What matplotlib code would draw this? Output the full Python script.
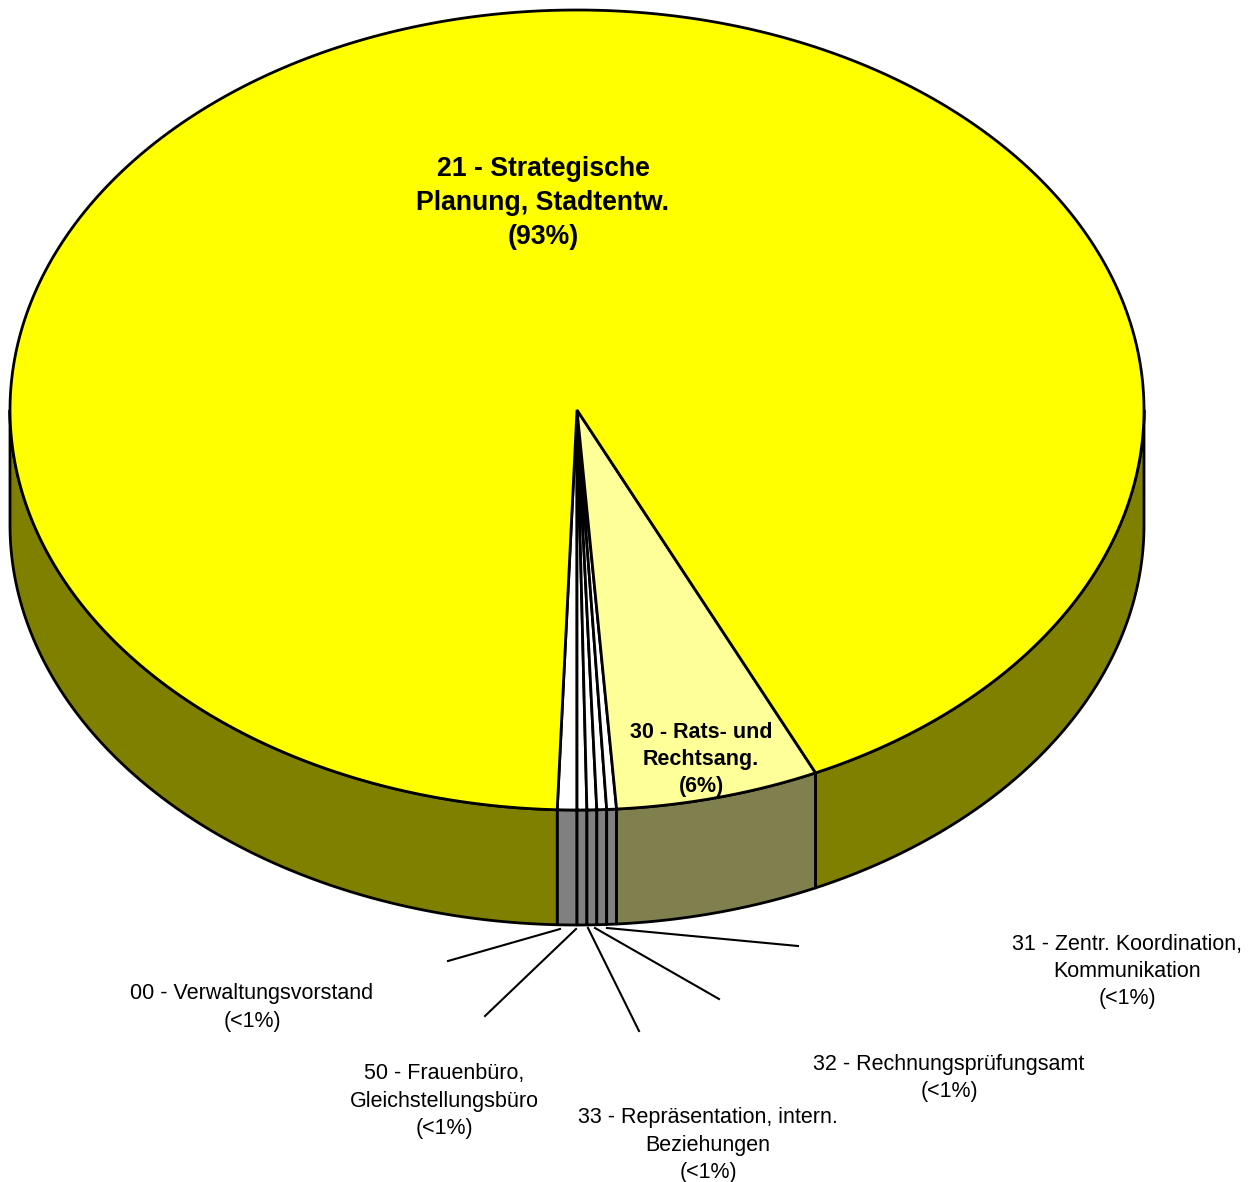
import numpy as np
import matplotlib
matplotlib.use('Agg')
import matplotlib.pyplot as plt

# shares in percent, in drawing order starting just left of the front
names = ['00', '50', '33', '32', '31', '30', '21']
shares = [0.556, 0.278, 0.278, 0.278, 0.278, 5.80, 92.532]
top_colors = ['#FFFFFF', '#FFFFFF', '#FFFFFF', '#FFFFFF', '#FFFFFF', '#FFFF99', '#FFFF00']
wall_colors = ['#808080', '#808080', '#808080', '#808080', '#808080', '#80804F', '#808000']

labels = ['00 - Verwaltungsvorstand\n(<1%)',
          '50 - Frauenbüro,\nGleichstellungsbüro\n(<1%)',
          '33 - Repräsentation, intern.\nBeziehungen\n(<1%)',
          '32 - Rechnungsprüfungsamt\n(<1%)',
          '31 - Zentr. Koordination,\nKommunikation\n(<1%)',
          '30 - Rats- und\nRechtsang.\n(6%)',
          '21 - Strategische\nPlanung, Stadtentw.\n(93%)']
label_pos = [(252, 1007.5), (444, 1101), (708, 1145), (949, 1078), (1127, 971.5), (701, 759.5), (543, 203.5)]
leaders = [((560, 929), (448, 961)),
           ((576, 929), (485, 1016)),
           ((588, 928), (639, 1031)),
           ((595, 928), (719, 999)),
           ((607, 928), (798, 946))]

cx, cy, rx, ry, depth = 577, 410, 567, 400, 115
start = -2.0
line_w = 2.0

plt.rcParams['font.family'] = ['Liberation Sans', 'DejaVu Sans']
fig = plt.figure(figsize=(12.57, 11.82), dpi=100)
ax = fig.add_axes([0, 0, 1, 1])
ax.set_xlim(0, 1257)
ax.set_ylim(1182, 0)
ax.axis('off')


def rim(a, b):
    t = np.radians(np.linspace(a, b, 400))
    return cx + rx * np.sin(t), cy + ry * np.cos(t)


edges = start + np.cumsum([0] + shares) * 3.6

# side wall, front half only
for i in range(len(shares)):
    for lo, hi in [(-90, 90), (270, 450)]:
        a, b = max(edges[i], lo), min(edges[i + 1], hi)
        if a < b:
            x, y = rim(a, b)
            ax.fill(np.r_[x, x[::-1]], np.r_[y, y[::-1] + depth], fc=wall_colors[i],
                    ec='black', lw=line_w, joinstyle='round')

# top face
for i in range(len(shares)):
    x, y = rim(edges[i], edges[i + 1])
    ax.fill(np.r_[cx, x], np.r_[cy, y], fc=top_colors[i], ec='black', lw=line_w, joinstyle='miter')

for p, q in leaders:
    ax.plot([p[0], q[0]], [p[1], q[1]], color='black', lw=1.5)

for i in range(5):
    ax.text(label_pos[i][0], label_pos[i][1], labels[i], ha='center', va='center',
            fontsize=15.5, linespacing=1.40)
ax.text(label_pos[5][0], label_pos[5][1], labels[5], ha='center', va='center',
        fontsize=15.5, fontweight='bold', linespacing=1.40)
ax.text(label_pos[6][0], label_pos[6][1], labels[6], ha='center', va='center',
        fontsize=19.2, fontweight='bold', linespacing=1.40)

fig.savefig('out.png', dpi=100)
